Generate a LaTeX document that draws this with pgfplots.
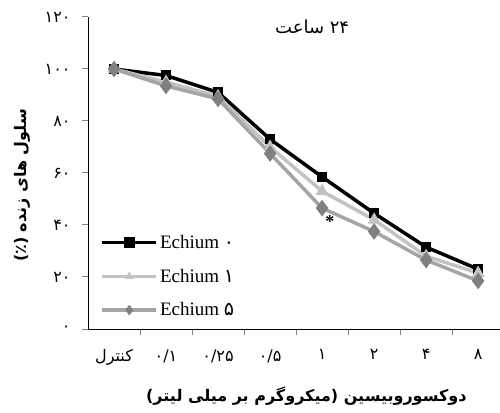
\documentclass[border=0pt]{standalone}
\usepackage{fontspec}
\setmainfont{Liberation Serif}
\newfontfamily\fa[Script=Arabic]{DejaVu Sans}
\usepackage{pgfplots}
\pgfplotsset{compat=1.18}
\TeXXeTstate=1
\definecolor{lg}{RGB}{195,195,195}
\definecolor{mg}{RGB}{165,165,165}
\definecolor{dg}{RGB}{128,128,128}
\begin{document}
\begin{tikzpicture}
\useasboundingbox (0,0) rectangle (500pt,412pt);
\begin{axis}[
 at={(88pt,83pt)}, anchor=south west,
 scale only axis, width=412pt, height=312pt,
 xmin=-0.5, xmax=7.42, ymin=0, ymax=120,
 axis x line*=bottom, axis y line*=left,
 axis line style={-, line width=1pt},
 tick align=outside,
 xtick={0,...,7},
 xticklabels={کنترل,۰/۱,۰/۲۵,۰/۵,۱,۲,۴,۸},
 major x tick style={draw=none},
 minor xtick={0.5,1.5,...,6.5},
 minor x tick style={line width=1pt},
 minor tick length=6pt,
 major tick length=6pt,
 ytick={0,20,...,120},
 yticklabels={۰,۲۰,۴۰,۶۰,۸۰,۱۰۰,۱۲۰},
 y tick style={line width=1pt},
 ticklabel style={font=\fa\fontsize{16}{18}\selectfont},
 xticklabel style={yshift=-11pt},
 yticklabel style={xshift=-8pt},
 every axis x label/.style={at={(axis description cs:0.53,-0.215)}, anchor=center},
 every axis y label/.style={at={(axis description cs:-0.16,0.46)}, rotate=90, anchor=center},
 xlabel style={font=\fa\bfseries\fontsize{16}{19}\selectfont},
 ylabel style={font=\fa\bfseries\fontsize{16}{19}\selectfont},
 xlabel={\beginR دوکسوروبیسین (میکروگرم بر میلی لیتر)\endR},
 ylabel={\beginR سلول های زنده (٪)\endR},
 legend style={at={(axis description cs:0.03,0.03)}, anchor=south west, draw=none, fill=none,
   font=\fontsize{19}{21}\selectfont, row sep=15pt, inner sep=0pt},
 legend cell align=left,
]
\addplot[black, line width=3.5pt, mark=square*, mark size=4.5pt, mark options={solid, line width=1pt},
 legend image code/.code={\draw[mark repeat=2,mark phase=2, mark size=5pt] plot coordinates {(0pt,0pt) (27pt,0pt) (54pt,0pt)};}]
 coordinates {(0,100) (1,97.5) (2,91) (3,73) (4,58.5) (5,44.5) (6,31.5) (7,23)};
\addlegendentry{Echium {\fa ۰}}
\addplot[lg, line width=3.5pt, mark=triangle*, mark size=6.5pt, mark options={solid, line width=1pt},
 legend image code/.code={\draw[mark repeat=2,mark phase=2, mark size=4pt] plot coordinates {(0pt,0pt) (27pt,0pt) (54pt,0pt)};}]
 coordinates {(0,100) (1,95) (2,89.5) (3,70) (4,53) (5,42) (6,28) (7,21.5)};
\addlegendentry{Echium {\fa ۱}}
\addplot[mg, line width=3.5pt, mark=diamond*, mark size=7.5pt, mark options={solid, line width=1pt, fill=dg, draw=dg},
 legend image code/.code={\draw[mark repeat=2,mark phase=2, mark size=4.5pt] plot coordinates {(0pt,0pt) (27pt,0pt) (54pt,0pt)};}]
 coordinates {(0,100) (1,93.5) (2,88.5) (3,67.5) (4,46.5) (5,37.5) (6,26.5) (7,18.5)};
\addlegendentry{Echium {\fa ۵}}
\node[font=\bfseries\fontsize{18}{18}\selectfont] at (axis cs:4.15,41.5) {*};
\node[font=\fa\fontsize{18}{20}\selectfont] at (axis description cs:0.544,0.968) {\beginR ۲۴ ساعت\endR};
\end{axis}
\end{tikzpicture}
\end{document}
